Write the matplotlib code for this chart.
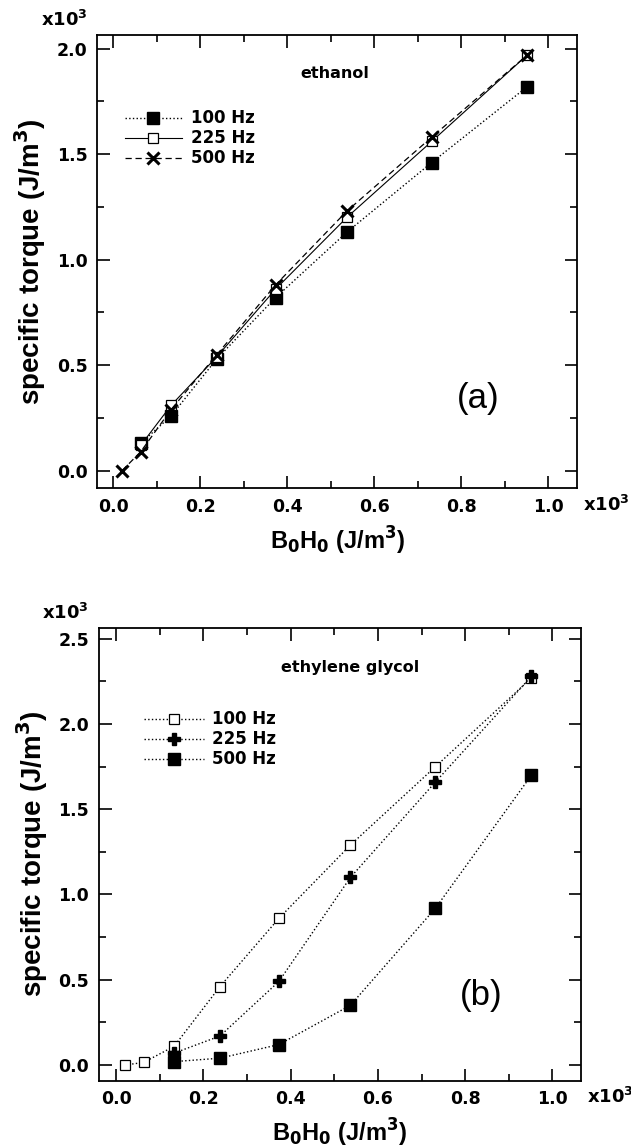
import matplotlib
matplotlib.use('Agg')
import matplotlib.pyplot as plt
from matplotlib.ticker import MultipleLocator

plt.rcParams['font.family'] = ['Liberation Sans', 'DejaVu Sans']
plt.rcParams['font.weight'] = 'bold'
WIDE = ['DejaVu Sans']  # wide bold face, closer to the small labels of the original

# field energy density B0H0 (x10^3 J/m3)
x_all = [0.020, 0.063, 0.133, 0.238, 0.373, 0.537, 0.732, 0.952]
x_from1 = [0.063, 0.133, 0.238, 0.373, 0.537, 0.732, 0.952]
x_from2 = [0.133, 0.238, 0.373, 0.537, 0.732, 0.952]

# (a) ethanol, specific torque (x10^3 J/m3)
eth_100 = [0.13, 0.26, 0.53, 0.82, 1.13, 1.46, 1.82]
eth_225 = [0.12, 0.31, 0.54, 0.86, 1.20, 1.56, 1.97]
eth_500 = [0.00, 0.09, 0.29, 0.55, 0.88, 1.23, 1.58, 1.97]

# (b) ethylene glycol
eg_100 = [0.00, 0.015, 0.11, 0.46, 0.86, 1.29, 1.75, 2.27]
eg_225 = [0.07, 0.17, 0.49, 1.10, 1.66, 2.28]
eg_500 = [0.02, 0.04, 0.12, 0.35, 0.92, 1.70]

labels = ['100 Hz', '225 Hz', '500 Hz']

fig = plt.figure(figsize=(6.31, 11.47), dpi=100)
ax1 = fig.add_axes([0.154, 0.5743, 0.761, 0.3955])
ax2 = fig.add_axes([0.1564, 0.0578, 0.764, 0.395])

leg_prop = {'family': WIDE, 'weight': 'bold', 'size': 12}

# top panel
ax1.plot(x_from1, eth_100, ls=':', lw=1, color='k', marker='s', ms=9, mfc='k', label=labels[0])
ax1.plot(x_from1, eth_225, ls='-', lw=0.8, color='k', marker='s', ms=6.5, mfc='white', mew=0.9, label=labels[1])
ax1.plot(x_all, eth_500, ls=(0, (5, 3)), lw=0.9, color='k', marker='x', ms=8, mew=2.2, label=labels[2])
ax1.set_xlim(-0.037, 1.067)
ax1.set_ylim(-0.083, 2.066)
ax1.text(0.51, 1.88, 'ethanol', ha='center', va='center', fontsize=11.5, fontweight='bold', family=WIDE)
ax1.text(0.84, 0.34, '(a)', ha='center', va='center', fontsize=25, fontweight='normal')
ax1.legend(loc='upper left', bbox_to_anchor=(0.027, 1.712), bbox_transform=ax1.transData,
           frameon=False, borderpad=0, borderaxespad=0, handlelength=3.4, handletextpad=0.55,
           labelspacing=0.12, numpoints=1, prop=leg_prop)

# bottom panel
ax2.plot(x_all, eg_100, ls=':', lw=1, color='k', marker='s', ms=7, mfc='white', mew=0.9, label=labels[0])
ax2.plot(x_from2, eg_225, ls=':', lw=1, color='k', marker='P', ms=9, mfc='k', label=labels[1])
ax2.plot(x_from2, eg_500, ls=':', lw=1, color='k', marker='s', ms=8.5, mfc='k', label=labels[2])
ax2.set_xlim(-0.04, 1.065)
ax2.set_ylim(-0.092, 2.565)
ax2.text(0.537, 2.33, 'ethylene glycol', ha='center', va='center', fontsize=11.5, fontweight='bold', family=WIDE)
ax2.text(0.836, 0.41, '(b)', ha='center', va='center', fontsize=25, fontweight='normal')
ax2.legend(loc='upper left', bbox_to_anchor=(0.064, 2.08), bbox_transform=ax2.transData,
           frameon=False, borderpad=0, borderaxespad=0, handlelength=3.6, handletextpad=0.45,
           labelspacing=0.12, numpoints=1, prop=leg_prop)

for ax in (ax1, ax2):
    ax.xaxis.set_major_locator(MultipleLocator(0.2))
    ax.xaxis.set_minor_locator(MultipleLocator(0.1))
    ax.yaxis.set_major_locator(MultipleLocator(0.5))
    ax.yaxis.set_minor_locator(MultipleLocator(0.25))
    ax.xaxis.set_major_formatter(plt.FormatStrFormatter('%.1f'))
    ax.yaxis.set_major_formatter(plt.FormatStrFormatter('%.1f'))
    ax.tick_params(which='both', direction='in', top=True, right=True, width=1.2)
    ax.tick_params(which='major', length=9, labelsize=12.5, pad=7)
    ax.tick_params(which='minor', length=5)
    for s in ax.spines.values():
        s.set_linewidth(1.3)
    for lab in ax.get_xticklabels() + ax.get_yticklabels():
        lab.set_fontweight('bold')
        lab.set_family(WIDE)
    ax.set_ylabel('specific torque (J/m$^\\mathbf{3}$)', fontsize=20, fontweight='bold', labelpad=6)
    ax.set_xlabel('B$_\\mathbf{0}$H$_\\mathbf{0}$ (J/m$^\\mathbf{3}$)', fontsize=17, fontweight='bold', labelpad=6)
    ax.text(-0.02, 1.018, 'x10$^\\mathregular{3}$', transform=ax.transAxes, ha='right', va='baseline',
            fontsize=13, fontweight='bold', family=WIDE)
    ax.text(1.012, -0.05, 'x10$^\\mathregular{3}$', transform=ax.transAxes, ha='left', va='baseline',
            fontsize=13, fontweight='bold', family=WIDE)

fig.savefig('out.png', dpi=100)
